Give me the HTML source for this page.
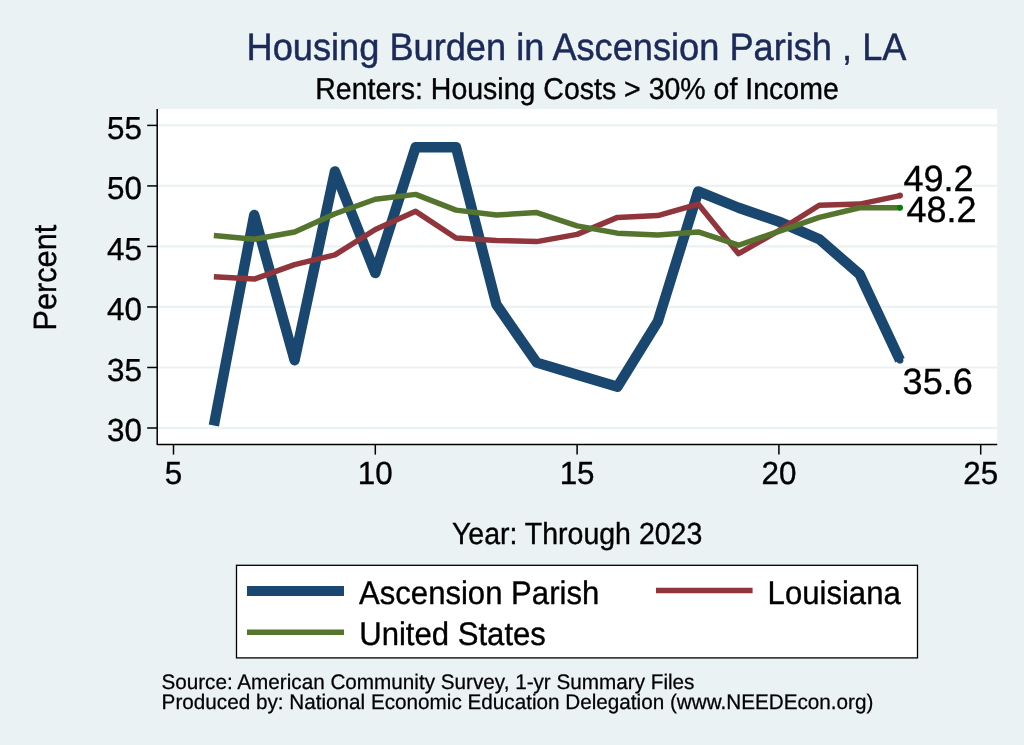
<!DOCTYPE html>
<html><head><meta charset="utf-8"><style>
html,body{margin:0;padding:0;background:#eaf2f3;overflow:hidden;}
svg{display:block;will-change:transform;}
text{font-family:"Liberation Sans", sans-serif;text-rendering:geometricPrecision;}
</style></head><body>
<svg width="1024" height="745" viewBox="0 0 1024 745">
<rect x="0" y="0" width="1024" height="745" fill="#eaf2f3"/>
<rect x="157.2" y="109.0" width="840.0" height="335.4" fill="#ffffff"/>
<line x1="158.2" y1="428.00" x2="997.2" y2="428.00" stroke="#eaf2f3" stroke-width="2.2"/>
<line x1="158.2" y1="367.48" x2="997.2" y2="367.48" stroke="#eaf2f3" stroke-width="2.2"/>
<line x1="158.2" y1="306.96" x2="997.2" y2="306.96" stroke="#eaf2f3" stroke-width="2.2"/>
<line x1="158.2" y1="246.44" x2="997.2" y2="246.44" stroke="#eaf2f3" stroke-width="2.2"/>
<line x1="158.2" y1="185.92" x2="997.2" y2="185.92" stroke="#eaf2f3" stroke-width="2.2"/>
<line x1="158.2" y1="125.40" x2="997.2" y2="125.40" stroke="#eaf2f3" stroke-width="2.2"/>
<polyline points="157.2,109.0 157.2,444.4 997.2,444.4" fill="none" stroke="#000" stroke-width="1.5" stroke-linejoin="round"/>
<line x1="147.2" y1="428.00" x2="157.2" y2="428.00" stroke="#000" stroke-width="1.5"/>
<text transform="translate(141.9,441.25) scale(1,1.015)" font-size="31.4" text-anchor="end" fill="#000" stroke="#000" stroke-width="0.35">30</text>
<line x1="147.2" y1="367.48" x2="157.2" y2="367.48" stroke="#000" stroke-width="1.5"/>
<text transform="translate(141.9,380.73) scale(1,1.015)" font-size="31.4" text-anchor="end" fill="#000" stroke="#000" stroke-width="0.35">35</text>
<line x1="147.2" y1="306.96" x2="157.2" y2="306.96" stroke="#000" stroke-width="1.5"/>
<text transform="translate(141.9,320.21) scale(1,1.015)" font-size="31.4" text-anchor="end" fill="#000" stroke="#000" stroke-width="0.35">40</text>
<line x1="147.2" y1="246.44" x2="157.2" y2="246.44" stroke="#000" stroke-width="1.5"/>
<text transform="translate(141.9,259.69) scale(1,1.015)" font-size="31.4" text-anchor="end" fill="#000" stroke="#000" stroke-width="0.35">45</text>
<line x1="147.2" y1="185.92" x2="157.2" y2="185.92" stroke="#000" stroke-width="1.5"/>
<text transform="translate(141.9,199.17) scale(1,1.015)" font-size="31.4" text-anchor="end" fill="#000" stroke="#000" stroke-width="0.35">50</text>
<line x1="147.2" y1="125.40" x2="157.2" y2="125.40" stroke="#000" stroke-width="1.5"/>
<text transform="translate(141.9,138.65) scale(1,1.015)" font-size="31.4" text-anchor="end" fill="#000" stroke="#000" stroke-width="0.35">55</text>
<line x1="173.50" y1="444.4" x2="173.50" y2="454.6" stroke="#000" stroke-width="1.5"/>
<text transform="translate(173.5,483.9) scale(1,1.02)" font-size="31.4" text-anchor="middle" fill="#000" stroke="#000" stroke-width="0.35">5</text>
<line x1="375.30" y1="444.4" x2="375.30" y2="454.6" stroke="#000" stroke-width="1.5"/>
<text transform="translate(375.3,483.9) scale(1,1.02)" font-size="31.4" text-anchor="middle" fill="#000" stroke="#000" stroke-width="0.35">10</text>
<line x1="577.10" y1="444.4" x2="577.10" y2="454.6" stroke="#000" stroke-width="1.5"/>
<text transform="translate(577.1,483.9) scale(1,1.02)" font-size="31.4" text-anchor="middle" fill="#000" stroke="#000" stroke-width="0.35">15</text>
<line x1="778.90" y1="444.4" x2="778.90" y2="454.6" stroke="#000" stroke-width="1.5"/>
<text transform="translate(778.9,483.9) scale(1,1.02)" font-size="31.4" text-anchor="middle" fill="#000" stroke="#000" stroke-width="0.35">20</text>
<line x1="980.70" y1="444.4" x2="980.70" y2="454.6" stroke="#000" stroke-width="1.5"/>
<text transform="translate(980.7,483.9) scale(1,1.02)" font-size="31.4" text-anchor="middle" fill="#000" stroke="#000" stroke-width="0.35">25</text>
<polyline points="213.86,425.58 254.22,214.97 294.58,360.22 334.94,171.40 375.30,273.07 415.66,147.19 456.02,147.19 496.38,304.54 536.74,362.64 577.10,374.74 617.46,386.85 657.82,321.48 698.18,191.37 738.54,207.71 778.90,221.63 819.26,239.18 859.62,274.28 899.98,360.22" fill="none" stroke="#1a476f" stroke-width="10.4" stroke-linejoin="round" stroke-linecap="butt"/>
<polyline points="213.86,276.70 254.22,279.12 294.58,264.60 334.94,254.91 375.30,229.49 415.66,211.34 456.02,237.97 496.38,240.39 536.74,241.60 577.10,234.34 617.46,217.39 657.82,215.57 698.18,204.08 738.54,253.70 778.90,230.70 819.26,205.29 859.62,204.08 899.98,195.60" fill="none" stroke="#90353b" stroke-width="5.5" stroke-linejoin="round" stroke-linecap="butt"/>
<polyline points="213.86,235.55 254.22,239.18 294.58,231.92 334.94,213.76 375.30,199.23 415.66,194.39 456.02,210.13 496.38,214.97 536.74,212.55 577.10,225.86 617.46,233.13 657.82,234.94 698.18,231.92 738.54,245.23 778.90,231.31 819.26,217.39 859.62,207.71 899.98,207.71" fill="none" stroke="#55752f" stroke-width="5.5" stroke-linejoin="round" stroke-linecap="butt"/>
<circle cx="899.98" cy="360.22" r="3.4" fill="#1a476f"/>
<circle cx="899.98" cy="195.60" r="3" fill="#90353b"/>
<circle cx="899.98" cy="207.71" r="3" fill="#008000"/>
<text transform="translate(903.4,191.3) scale(1,1.012)" font-size="36.1" fill="#000" stroke="#000" stroke-width="0.35">49.2</text>
<text transform="translate(906.4,221.7) scale(1,1.012)" font-size="36.1" fill="#000" stroke="#000" stroke-width="0.35">48.2</text>
<text transform="translate(902.6,394.2) scale(1,1.012)" font-size="36.1" fill="#000" stroke="#000" stroke-width="0.35">35.6</text>
<text transform="translate(246.6,60.0) scale(1,1.05)" font-size="36.2" fill="#1c2a5a" stroke="#1c2a5a" stroke-width="0.45">Housing Burden in Ascension Parish , LA</text>
<text transform="translate(315.2,98.85) scale(1,1.06)" font-size="28.5" fill="#000" stroke="#000" stroke-width="0.35">Renters: Housing Costs &gt; 30% of Income</text>
<text transform="translate(451.9,544.2) scale(1,1.07)" font-size="28.5" fill="#000" stroke="#000" stroke-width="0.35">Year: Through 2023</text>
<text transform="translate(55.9,277.65) rotate(-90) scale(1,1.05)" font-size="30.7" text-anchor="middle" fill="#000" stroke="#000" stroke-width="0.35">Percent</text>
<rect x="236.5" y="565.3" width="681" height="92.6" fill="#fff" stroke="#000" stroke-width="1.3"/>
<line x1="247" y1="591" x2="344" y2="591" stroke="#1a476f" stroke-width="10.2"/>
<line x1="656" y1="590.5" x2="752.6" y2="590.5" stroke="#90353b" stroke-width="5.5"/>
<line x1="247" y1="632.3" x2="344" y2="632.3" stroke="#55752f" stroke-width="5.5"/>
<text transform="translate(359.0,604.2) scale(1,1.05)" font-size="31.1" fill="#000" stroke="#000" stroke-width="0.35">Ascension Parish</text>
<text transform="translate(767.6,604.2) scale(1,1.05)" font-size="31.1" fill="#000" stroke="#000" stroke-width="0.35">Louisiana</text>
<text transform="translate(359.2,645.0) scale(1,1.05)" font-size="31.1" fill="#000" stroke="#000" stroke-width="0.35">United States</text>
<text transform="translate(161.4,689.4) scale(1,1.02)" font-size="20.7" fill="#000" stroke="#000" stroke-width="0.25">Source: American Community Survey, 1-yr Summary Files</text>
<text transform="translate(161.6,708.9) scale(1,1.02)" font-size="20.7" fill="#000" stroke="#000" stroke-width="0.25">Produced by: National Economic Education Delegation (www.NEEDEcon.org)</text>
</svg>
</body></html>
